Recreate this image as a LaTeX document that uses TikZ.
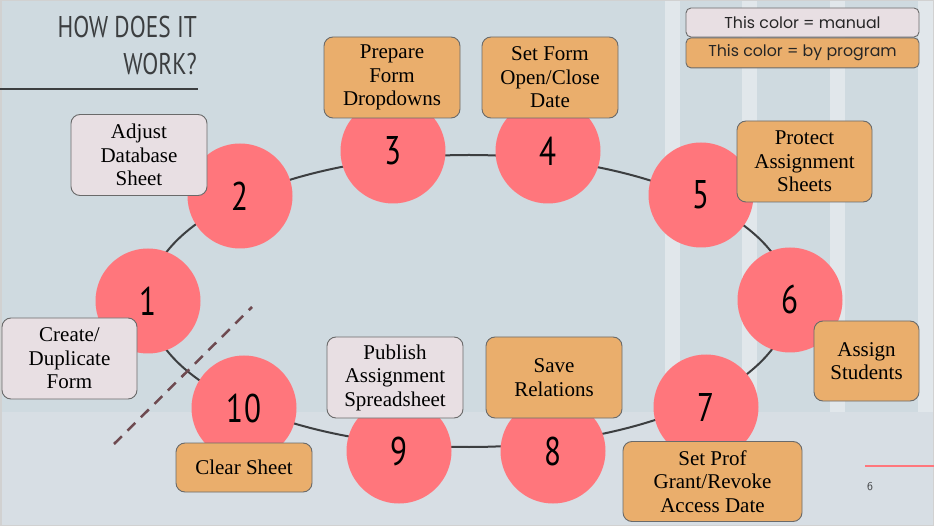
\documentclass[tikz,border=0pt]{standalone}
\usepackage{fontspec}
\setmainfont{Liberation Serif}
\newfontfamily\numfont[FakeStretch=0.78]{PT Sans}
\newfontfamily\legendfont{Poppins}
\usepackage{xcolor}
\usepackage{tikz}
\usetikzlibrary{shapes.geometric, positioning}
\definecolor{bgtop}{HTML}{CFDAE0}
\definecolor{bgbottom}{HTML}{D7DEE4}
\definecolor{stripe}{HTML}{E1E7EB}
\definecolor{manualfill}{HTML}{E8DFE3}
\definecolor{progfill}{HTML}{EAAE6C}
\definecolor{dotred}{HTML}{FF767C}
\definecolor{inkgray}{HTML}{3C3E40}
\definecolor{boxline}{HTML}{6A6A6A}
\definecolor{cutline}{HTML}{6E4A50}
\tikzstyle{stepdot} = [circle, fill=dotred, minimum size=105pt, inner sep=0pt, font=\numfont\fontsize{40}{40}\selectfont]
\tikzstyle{task} = [rectangle, rounded corners=9pt, draw=boxline, line width=0.9pt, align=center, inner sep=0pt, font=\fontsize{21}{23.5}\selectfont, text=black]
\tikzstyle{manual} = [task, fill=manualfill]
\tikzstyle{byprog} = [task, fill=progfill]
\tikzstyle{legend} = [rectangle, rounded corners=5pt, draw=boxline, line width=0.9pt, minimum width=233pt, inner sep=0pt, font=\legendfont\fontsize{15.8}{15.8}\selectfont, text=black!85]

\begin{document}
\begin{tikzpicture}[x=1pt, y=-1pt]
        \useasboundingbox (0,0) rectangle (934,526);
        % background and stripes
        \fill[bgtop] (0,0) rectangle (934,412);
        \fill[bgbottom] (0,412) rectangle (934,526);
        \foreach \sx/\sw in {665/15, 742/15, 830/15, 918/16}
            \fill[stripe] (\sx,0) rectangle ++(\sw,412);
        \draw[black!18, line width=1.5pt] (0.75,0.75) rectangle (933.25,525.25);

        % title
        \node[anchor=north east, align=right, text=inkgray, inner sep=0pt,
              font=\numfont\fontsize{30}{37}\selectfont] (title) at (197,16) {HOW DOES IT\\WORK?};
        \draw[inkgray, line width=2pt] (0,89) -- (198,89);

        % legend
        \node[legend, fill=manualfill, minimum height=29pt] (legman) at (802.5,22.5) {This color = manual};
        \node[legend, fill=progfill, minimum height=30pt, below=0pt of legman] (legprog) {This color = by program};

        % ring of steps
        \node[ellipse, draw=inkgray, line width=2pt, minimum width=642pt, minimum height=292pt, inner sep=0pt] (ring) at (469,301) {};
        \foreach \n/\px/\py in {1/148/301, 2/240/196, 3/393/151, 4/548/151, 5/701/195,
                                6/790/300, 7/706/407, 8/553/451, 9/399/451, 10/244/408}
            \node[stepdot] (c\n) at (\px,\py) {\n};

        \draw[cutline, line width=2.5pt, dash pattern=on 11pt off 8pt] (114,444) -- (252,307);

        % step labels
        \node[manual, minimum width=136pt, minimum height=81pt] (adjust) at (139,155) {Adjust\\Database\\Sheet};
        \node[byprog, minimum width=136pt, minimum height=81pt] (prepare) at (392,77.5) {Prepare\\Form\\Dropdowns};
        \node[byprog, minimum width=136pt, minimum height=81pt] (openclose) at (550,77.5) {Set Form\\Open/Close\\Date};
        \node[byprog, minimum width=135pt, minimum height=81pt] (protect) at (804.5,161.5) {Protect\\Assignment\\Sheets};
        \node[byprog, minimum width=105pt, minimum height=80pt] (assign) at (866.5,361) {Assign\\Students};
        \node[byprog, minimum width=179pt, minimum height=80pt] (access) at (712.5,481.5) {Set Prof\\Grant/Revoke\\Access Date};
        \node[byprog, minimum width=136pt, minimum height=81pt] (save) at (554,377.5) {Save\\Relations};
        \node[manual, minimum width=136pt, minimum height=81pt] (publish) at (395,377.5) {Publish\\Assignment\\Spreadsheet};
        \node[byprog, minimum width=136pt, minimum height=49pt] (clear) at (244,467.5) {Clear Sheet};
        \node[manual, minimum width=135pt, minimum height=81pt] (create) at (69.5,358.5) {Create/\\Duplicate\\Form};

        % page mark
        \draw[dotred, line width=1.5pt] (865,466) -- (934,466);
        \node[text=inkgray, font=\sffamily\fontsize{12}{12}\selectfont] (pagenum) at (870,487) {6};
    \end{tikzpicture}
\end{document}
